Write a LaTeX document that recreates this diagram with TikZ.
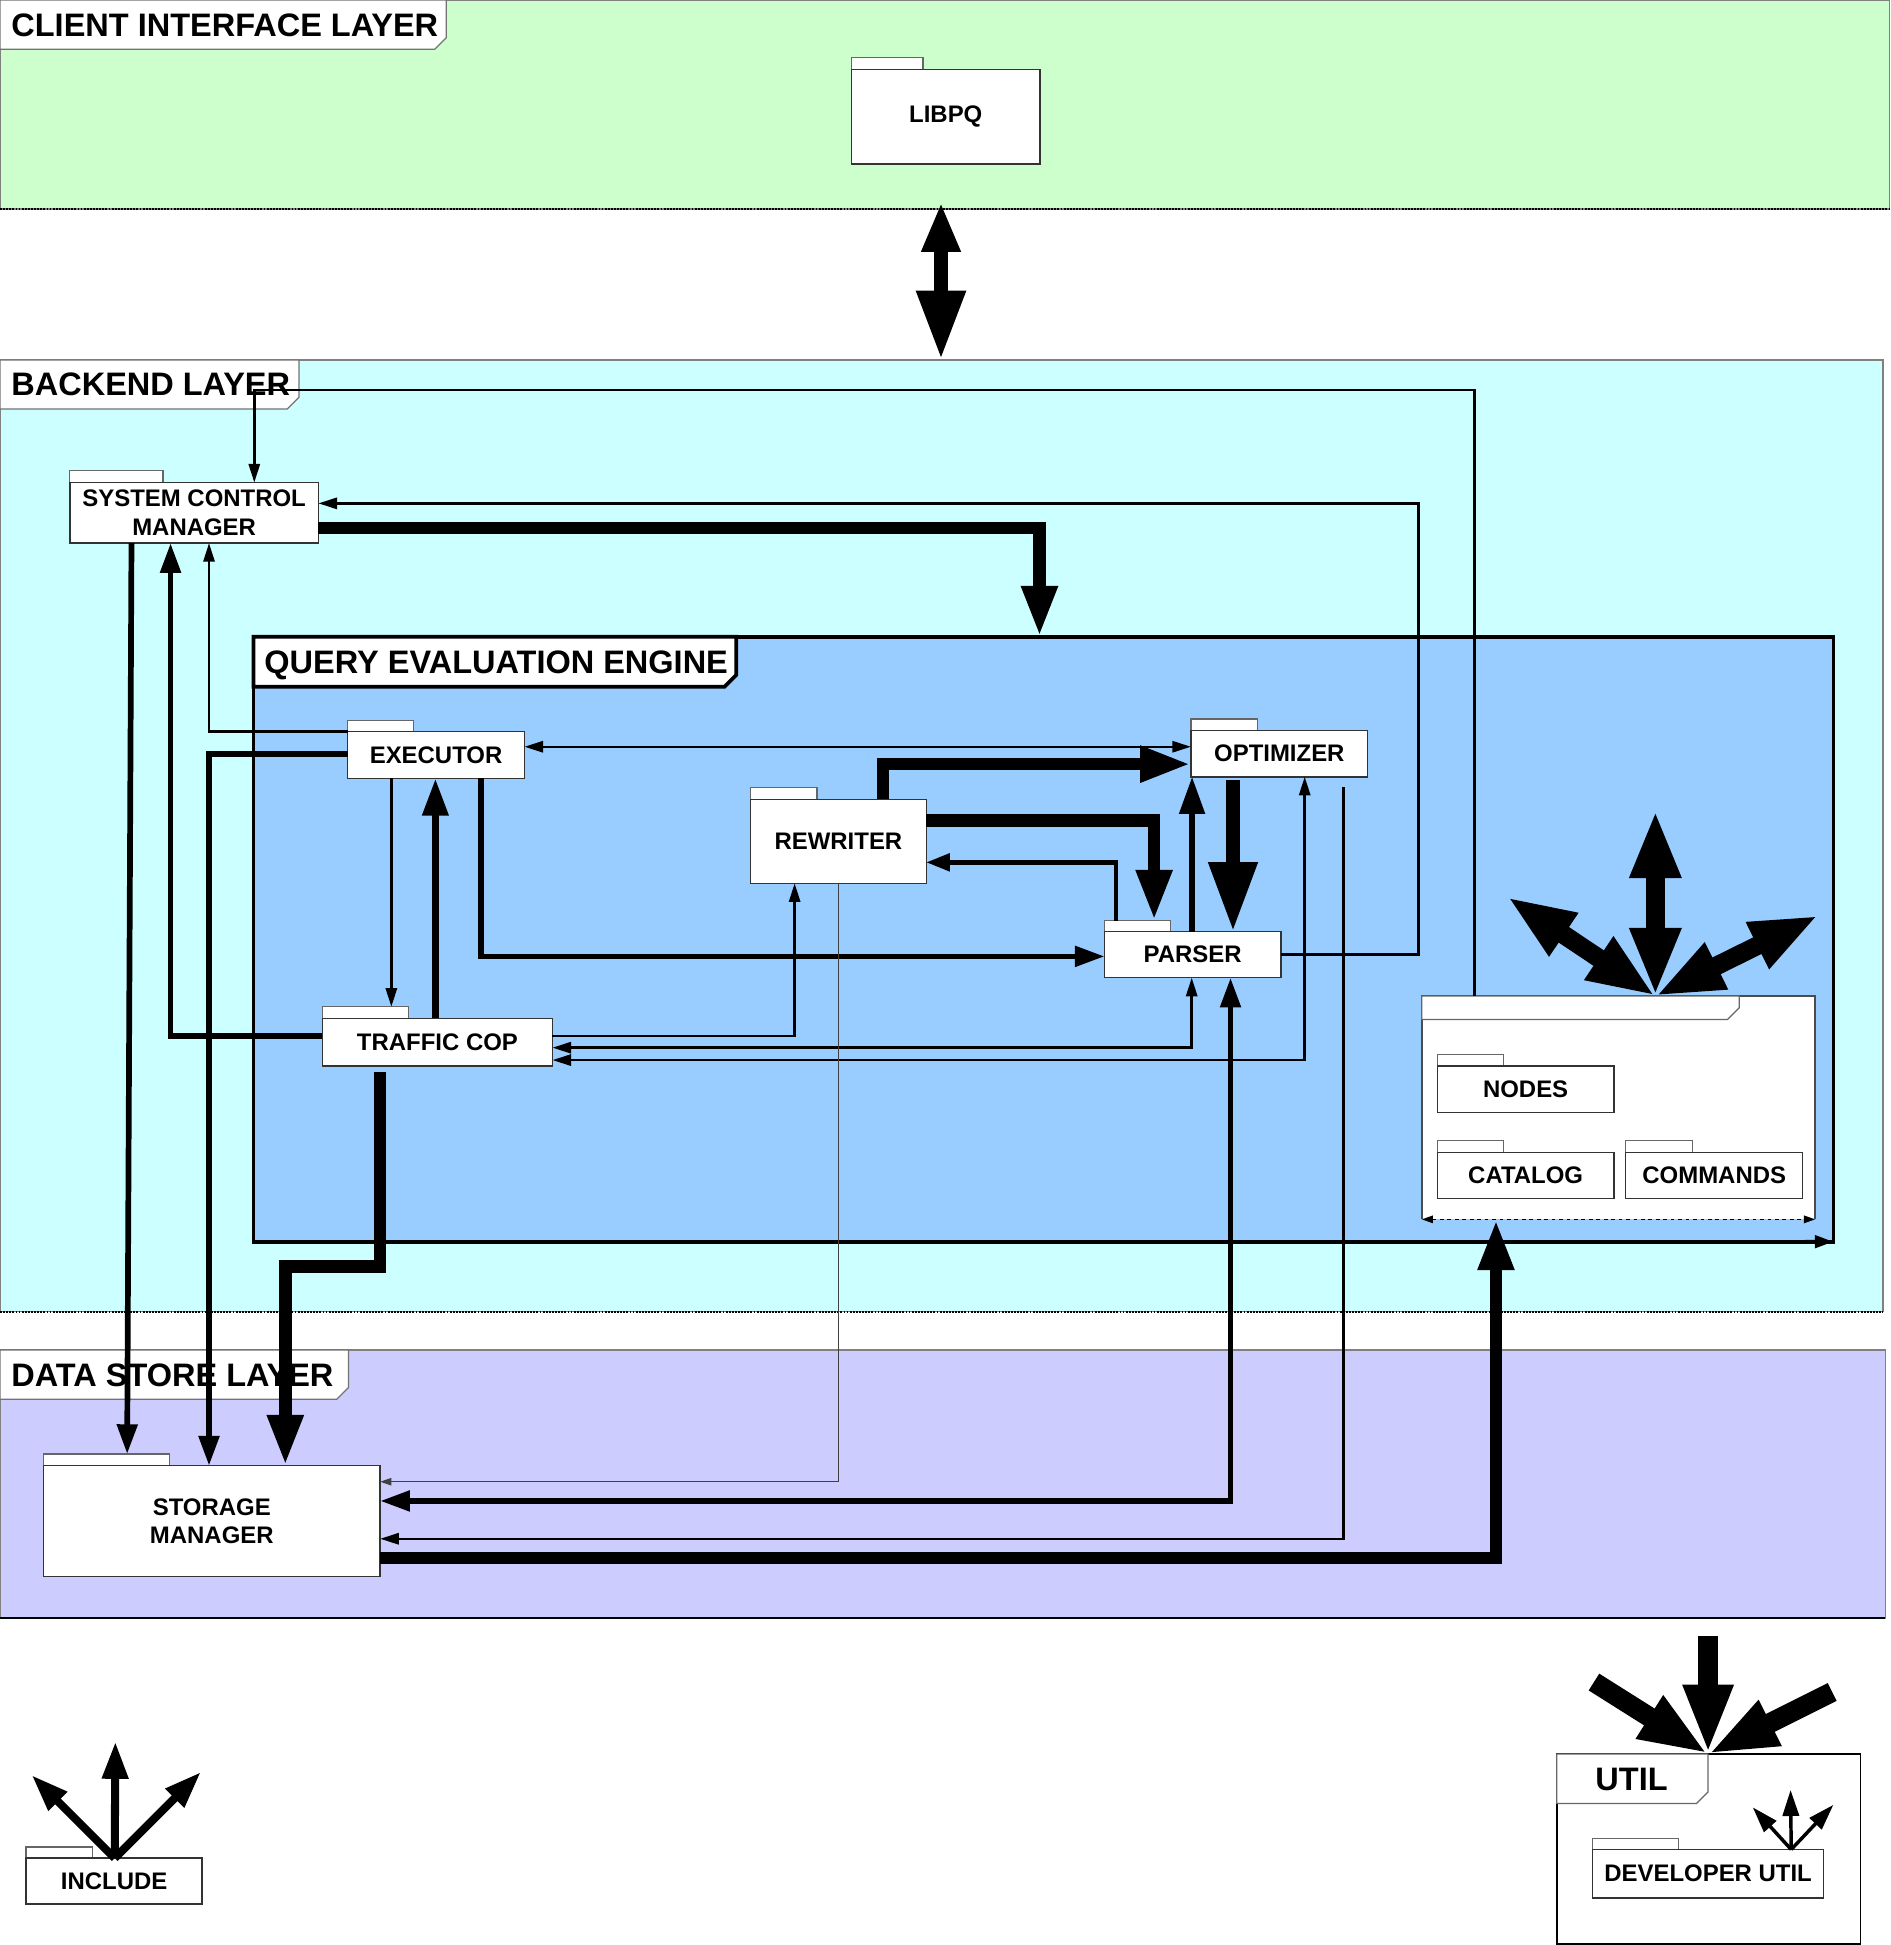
\documentclass[tikz,border=0pt]{standalone}
\usepackage{fontspec}
\setmainfont{Liberation Sans}
\usetikzlibrary{arrows.meta}
\definecolor{cgreen}{HTML}{CCFFCC}
\definecolor{ccyan}{HTML}{CCFFFF}
\definecolor{cblue}{HTML}{99CCFF}
\definecolor{clav}{HTML}{CCCCFF}
\newcommand\boxfont{\fontsize{19.3}{23}\selectfont\bfseries}
\newcommand\ttlfont{\fontsize{26.2}{30}\selectfont\bfseries}
% package: name, x1,y1,x2,y2, tab right x, tab top y, text
\newcommand\Pkg[8]{%
  \node[pkgtab, minimum width={#6-#2}, minimum height={#3-#7}] (#1t) at ({(#2+#6)/2},{(#3+#7)/2}) {};
  \node[pkg, minimum width={#4-#2}, minimum height={#5-#3}] (#1) at ({(#2+#4)/2},{(#3+#5)/2}) {#8};
}
% area: name, x1,y1,x2,y2, style
\newcommand\Area[6]{%
  \node[area, #6, minimum width={#4-#2}, minimum height={#5-#3}] (#1) at ({(#2+#4)/2},{(#3+#5)/2}) {};
}
% label tab with chamfer: x1,y1,x2,y2, style
\newcommand\LabTab[5]{%
  \draw[#5] (#1,#2) -- (#3,#2) -- (#3,#4-9.5) -- (#3-9.5,#4) -- (#1,#4) -- cycle;
}
\tikzset{
  pkg/.style={draw=black!80, fill=white, line width=1.2pt, inner sep=0pt, outer sep=0pt, align=center, font=\boxfont},
  pkgtab/.style={draw=black!60, fill=white, line width=1pt, inner sep=0pt, outer sep=0pt},
  area/.style={draw=black!50, line width=1pt, inner sep=0pt, outer sep=0pt},
  ttl/.style={font=\ttlfont, inner sep=0pt, anchor=base west},
  tabsty/.style={draw=black!55, fill=white, line width=1pt},
  tipXS/.tip={Triangle[length=9pt,width=6pt]},
  tipS/.tip={Triangle[length=15pt,width=9pt]},
  tipS2/.tip={Triangle[length=19pt,width=14pt]},
  tipM/.tip={Triangle[length=24pt,width=16pt]},
  tipM2/.tip={Triangle[length=30pt,width=20pt]},
  tipL/.tip={Triangle[length=41pt,width=27pt]},
  tipL2/.tip={Triangle[length=56pt,width=37pt]},
  tipXL/.tip={Triangle[length=55pt,width=38pt]},
  tipI/.tip={Triangle[length=30pt,width=20pt]},
  tipD/.tip={Triangle[length=21pt,width=13pt]},
  lnXS/.style={line width=0.8pt, draw=black!75},
  lnS/.style={line width=2pt},
  lnS2/.style={line width=3.5pt},
  lnM/.style={line width=4.6pt},
  lnM2/.style={line width=6pt},
  lnT/.style={line width=10pt},
  lnT2/.style={line width=11pt},
  lnStar/.style={line width=15pt},
}
\begin{document}
\begin{tikzpicture}[x=1pt,y=-1pt, line join=miter]
\useasboundingbox (0,0) rectangle (1524,1568);
\fill[white] (0,0) rectangle (1524,1568);

% ---------- layers ----------
\Area{client}{0}{0}{1523}{168.5}{fill=cgreen}
\draw[line width=1.5pt, densely dotted] (client.south west) -- (client.south east);
\Area{backend}{0}{290.2}{1518}{1057.5}{fill=ccyan}
\draw[line width=1.5pt, densely dotted] (backend.south west) -- (backend.south east);
\Area{datastore}{0}{1088.4}{1520}{1304.4}{fill=clav}
\draw[line width=1.5pt] (datastore.south west) -- (datastore.south east);
\Area{qee}{204.3}{513.3}{1478}{1001}{fill=cblue, draw=black, line width=3pt}

% ---------- layer titles ----------
\LabTab{0}{0}{359.8}{39.8}{tabsty}
\node[ttl] (tclient) at (9,29.1) {CLIENT INTERFACE LAYER};
\LabTab{0}{290.2}{241}{329.7}{tabsty}
\node[ttl] (tbackend) at (9,319.2) {BACKEND LAYER};
\LabTab{204.3}{513.3}{593.5}{553.6}{draw=black, fill=white, line width=3pt}
\node[ttl] (tqee) at (213,542.7) {QUERY EVALUATION ENGINE};
\LabTab{0}{1088.4}{281}{1128}{tabsty}
\node[ttl] (tdata) at (9,1117.4) {DATA STORE LAYER};

% ---------- packages ----------
\Pkg{libpq}{686.6}{55.9}{838.3}{132.2}{744}{46.2}{LIBPQ}
\Pkg{scm}{56.3}{389}{256.7}{437.8}{131.5}{379.5}{SYSTEM CONTROL\\MANAGER}
\Pkg{exe}{280.3}{589.9}{422.8}{627.5}{333.4}{581}{EXECUTOR}
\Pkg{opt}{960.1}{589}{1102.6}{626.2}{1013.9}{579.7}{OPTIMIZER}
\Pkg{rew}{605}{644.4}{746.8}{712.1}{658.7}{635}{REWRITER}
\Pkg{par}{890.5}{751.1}{1032.5}{788.2}{943.7}{742.2}{PARSER}
\Pkg{tc}{259.9}{821}{445.4}{859.4}{329.5}{811.6}{TRAFFIC COP}
\Pkg{sto}{35}{1181.6}{306.5}{1271}{136.6}{1172.2}{STORAGE\\MANAGER}

% unnamed package with NODES / CATALOG / COMMANDS
\node[fill=white, inner sep=0pt, outer sep=0pt, minimum width=317.1, minimum height=180] (upk) at (1304.75,893) {};
\draw[line width=1.2pt, draw=black!70] (upk.south west) -- (upk.north west) -- (upk.north east) -- (upk.south east);
\LabTab{1146.2}{803}{1402.2}{821.8}{draw=black!60, fill=white, line width=1pt}
\Pkg{nodes}{1158.8}{859.4}{1301}{896.8}{1212}{850}{NODES}
\Pkg{catalog}{1158.8}{929}{1301}{966}{1212}{919.6}{CATALOG}
\Pkg{commands}{1310.6}{929}{1453.3}{966}{1364.4}{919.6}{COMMANDS}
\draw[line width=1.2pt, dashed, {tipXS}-{tipXS}] (upk.south west) -- (upk.south east);

% INCLUDE
\Pkg{include}{21}{1498}{163}{1535}{74.5}{1489}{INCLUDE}

% UTIL
\node[draw=black, fill=white, line width=1.2pt, inner sep=0pt, outer sep=0pt, minimum width=245, minimum height=153] (util) at (1377.5,1490.5) {};
\LabTab{1255}{1414}{1377}{1454}{draw=black!60, fill=white, line width=1pt}
\node[ttl] (tutil) at (1286,1443.2) {UTIL};
\Pkg{devutil}{1284}{1491}{1470}{1530}{1353}{1482}{DEVELOPER UTIL}

% ---------- coordinates ----------
\coordinate (lx) at (758.6,0);
\coordinate (l1) at (758.6,163);
\coordinate (b1a) at (205,314.5);
\coordinate (b1b) at (1188.5,314.5);
\coordinate (b2) at (1143.6,405.8);
\coordinate (b3) at (838,425.5);
\coordinate (b5a) at (106,0);
\coordinate (b5b) at (102.5,0);
\coordinate (b6) at (137.5,835);
\coordinate (b7) at (168.5,589.9);
\coordinate (b8) at (168.5,608);
\coordinate (b9) at (0,602);
\coordinate (b10) at (711.9,616);
\coordinate (b11) at (930.4,661.5);
\coordinate (b12) at (899.6,695.2);
\coordinate (b13) at (961,0);
\coordinate (b14s) at (994,629);
\coordinate (b15) at (387.8,771);
\coordinate (b16) at (315.5,0);
\coordinate (b17) at (351,0);
\coordinate (b18) at (640.6,835.2);
\coordinate (b19) at (960.7,844.6);
\coordinate (b20) at (1051.8,854.6);
\coordinate (b21) at (676.2,1194.5);
\coordinate (b22) at (992,1210);
\coordinate (b23s) at (1083,634.5);
\coordinate (b23) at (1083,1240.5);
\coordinate (b24) at (1206,1255.8);
\coordinate (b25s) at (306.4,864);
\coordinate (b25) at (230,1021);
\coordinate (b26) at (1455,1001);
\coordinate (sx) at (1334.5,0);
\coordinate (s1) at (1334.5,653);
\coordinate (s2) at (1215,723);
\coordinate (s3) at (1466,738);
\coordinate (ux) at (1377,0);
\coordinate (u1) at (1377,1319);
\coordinate (u2) at (1285,1356);
\coordinate (u3) at (1477,1364);
\coordinate (ix) at (92.5,0);
\coordinate (i1) at (93,1404);
\coordinate (i2) at (25.5,1431);
\coordinate (i3) at (162,1428.5);
\coordinate (dx) at (1444,0);
\coordinate (d1) at (1443.5,1443);
\coordinate (d2) at (1413,1457);
\coordinate (d3) at (1478,1455);

% ---------- connectors ----------
% client <-> backend
\draw[line width=12pt, {Triangle[length=40pt,width=29pt]}-{Triangle[length=56pt,width=37pt]}] (l1) -- (backend.north -| lx);
% util package -> system control manager
\draw[lnS, -{tipS}] (upk.north -| b1b) |- (b1a) -- (scm.north -| b1a);
% parser -> system control manager
\draw[lnS, -{tipS}] (par.east) -| (b2) -- (scm.east |- b2);
% system control manager -> query evaluation engine
\draw[lnT, -{tipL}] (scm.east |- b3) -| (qee.north -| b3);
% system control manager -> storage manager
\draw[lnM, -{tipM}] (scm.south -| b5a) -- (stot.north -| b5b);
% traffic cop -> system control manager
\draw[lnM, -{tipM}] (tc.west |- b6) -| (scm.south -| b6);
% executor -> system control manager
\draw[lnS, -{tipS}] (exe.north west) -| (scm.south -| b7);
% executor -> storage manager
\draw[lnM, -{tipM}] (exe.west |- b8) -| (sto.north -| b8);
% executor <-> optimizer
\draw[lnS, {tipS}-{tipS}] (exe.east |- b9) -- (opt.west |- b9);
% rewriter -> optimizer
\draw[lnT, -{tipL}] (rew.north -| b10) |- (opt.west |- b10);
% rewriter -> parser
\draw[lnT, -{tipL}] (rew.east |- b11) -| (part.north -| b11);
% parser -> rewriter
\draw[lnS2, -{tipS2}] (part.north -| b12) |- (rew.east |- b12);
% parser -> optimizer
\draw[lnM, -{tipM2}] (par.north -| b13) -- (opt.south -| b13);
% optimizer -> parser
\draw[lnT2, -{tipL2}] (b14s) -- (par.north -| b14s);
% executor -> parser
\draw[lnM, -{tipM}] (exe.south -| b15) |- (par.west |- b15);
% executor -> traffic cop
\draw[lnS, -{tipS}] (exe.south -| b16) -- (tct.north -| b16);
% traffic cop -> executor
\draw[lnM2, -{tipM2}] (tc.north -| b17) -- (exe.south -| b17);
% traffic cop -> rewriter
\draw[lnS, -{tipS}] (tc.east |- b18) -| (rew.south -| b18);
% parser <-> traffic cop
\draw[lnS, {tipS}-{tipS}] (par.south -| b19) |- (tc.east |- b19);
% optimizer <-> traffic cop
\draw[lnS, {tipS}-{tipS}] (opt.south -| b20) |- (tc.east |- b20);
% rewriter -> storage manager
\draw[lnXS, -{tipXS}] (rew.south -| b21) |- (sto.east |- b21);
% parser <-> storage manager
\draw[lnM, {tipM}-{tipM}] (par.south -| b22) |- (sto.east |- b22);
% optimizer -> storage manager
\draw[lnS, -{tipS}] (b23s) |- (sto.east |- b23);
% storage manager -> util package
\draw[lnT, -{tipL}] (sto.east |- b24) -| (upk.south -| b24);
% traffic cop -> storage manager
\draw[lnT, -{tipL}] (b25s) |- (b25) -- (sto.north -| b25);
% arrow at bottom right of query evaluation engine
\draw[line width=3pt, -{Triangle[length=15pt,width=10pt]}] (b26) -- (qee.south east);

% star on util package
\draw[lnStar, {tipXL}-{tipXL}] (upk.north -| sx) -- (s1);
\draw[lnStar, {tipXL}-{tipXL}] (upk.north -| sx) -- (s2);
\draw[lnStar, {tipXL}-{tipXL}] (upk.north -| sx) -- (s3);

% star into UTIL
\draw[line width=16pt, -{tipL2}] (u1) -- (util.north -| ux);
\draw[line width=16pt, -{tipL2}] (u2) -- (util.north -| ux);
\draw[line width=16pt, -{tipL2}] (u3) -- (util.north -| ux);

% star on INCLUDE
\draw[line width=6.5pt, -{tipI}] (include.north -| ix) -- (i1);
\draw[line width=6.5pt, -{tipI}] (include.north -| ix) -- (i2);
\draw[line width=6.5pt, -{tipI}] (include.north -| ix) -- (i3);

% star on DEVELOPER UTIL
\draw[line width=2.8pt, -{tipD}] (devutil.north -| dx) -- (d1);
\draw[line width=2.8pt, -{tipD}] (devutil.north -| dx) -- (d2);
\draw[line width=2.8pt, -{tipD}] (devutil.north -| dx) -- (d3);
\end{tikzpicture}
\end{document}
